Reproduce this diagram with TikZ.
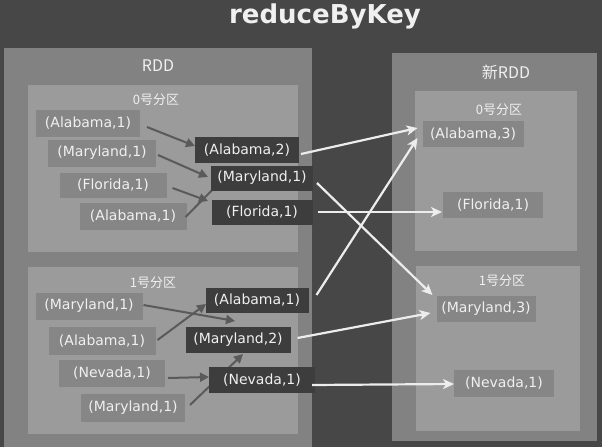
\documentclass[tikz,border=0pt]{standalone}
\usepackage{fontspec}
\setmainfont{DejaVu Sans}
\newfontfamily\cjk{Noto Sans CJK SC}
\usetikzlibrary{arrows.meta}
\definecolor{bgc}{HTML}{474747}
\definecolor{outerc}{HTML}{828282}
\definecolor{partc}{HTML}{9b9b9b}
\definecolor{srcc}{HTML}{868686}
\definecolor{darkc}{HTML}{3d3d3d}
\definecolor{txtc}{HTML}{F0F0F0}
\definecolor{inarrc}{HTML}{5a5a5a}
\definecolor{outarrc}{HTML}{EDEDED}
\begin{document}
\begin{tikzpicture}[x=1pt,y=-1pt,
  region/.style={rectangle,inner sep=0pt,outer sep=0pt,draw=none},
  outerbox/.style={region,fill=outerc},
  partbox/.style={region,fill=partc},
  tuple/.style={rectangle,inner sep=0pt,outer sep=0pt,text=txtc,font=\fontsize{14}{16}\selectfont,minimum height=26pt},
  srcbox/.style={tuple,fill=srcc},
  resbox/.style={tuple,fill=darkc},
  lbl/.style={text=txtc,font=\cjk\fontsize{13}{15}\selectfont,inner sep=0pt},
  rddlbl/.style={text=txtc,font=\cjk\fontsize{16}{18}\selectfont,inner sep=0pt},
  inarr/.style={draw=inarrc,line width=2pt,-{Triangle[length=9pt,width=9pt]}},
  outarr/.style={draw=outarrc,line width=2.2pt,-{Stealth[length=11pt,width=10pt,inset=3pt]}}
]
\useasboundingbox (0,0) rectangle (602,447);
\fill[bgc] (0,0) rectangle (602,447);

\node[text=txtc,font=\bfseries\fontsize{26}{28}\selectfont,inner sep=0pt] (title) at (325,16) {reduceByKey};

% containers
\node[outerbox,minimum width=308pt,minimum height=399pt] (L) at (158,247.5) {};
\node[outerbox,minimum width=205pt,minimum height=388pt] (R) at (494.5,247) {};
\node[partbox,minimum width=270pt,minimum height=167pt] (LP0) at (163,168.5) {};
\node[partbox,minimum width=270pt,minimum height=167pt] (LP1) at (163,350.5) {};
\node[partbox,minimum width=162pt,minimum height=160pt] (RP0) at (496,171) {};
\node[partbox,minimum width=164pt,minimum height=165pt] (RP1) at (498,348.5) {};

\node[rddlbl] (Lt) at (158,66) {RDD};
\node[rddlbl] (Rt) at (506,72) {新RDD};
\node[lbl] (LP0t) at (156,100) {0号分区};
\node[lbl] (LP1t) at (153,283) {1号分区};
\node[lbl] (RP0t) at (499,110) {0号分区};
\node[lbl] (RP1t) at (502,281) {1号分区};

% source tuples
\node[srcbox,minimum width=104pt,minimum height=27pt] (a1) at (88,123) {(Alabama,1)};
\node[srcbox,minimum width=108pt,minimum height=27pt] (m1) at (102,153) {(Maryland,1)};
\node[srcbox,minimum width=107pt,minimum height=25pt] (f1) at (113,185) {(Florida,1)};
\node[srcbox,minimum width=107pt,minimum height=27pt] (a1b) at (133,216) {(Alabama,1)};
\node[srcbox,minimum width=107pt,minimum height=27pt] (m2) at (89,306) {(Maryland,1)};
\node[srcbox,minimum width=107pt,minimum height=28pt] (a2) at (102,341) {(Alabama,1)};
\node[srcbox,minimum width=106pt,minimum height=27pt] (n1) at (112,373) {(Nevada,1)};
\node[srcbox,minimum width=104pt,minimum height=28pt] (m2b) at (133,408) {(Maryland,1)};

% coordinates for hidden arrow ends
\coordinate (hidA) at (236,166);

% arrows inside partitions (drawn before the result boxes)
\draw[inarr] ([shift={(7,4)}]a1.east) -- (195,146) coordinate (tA2);
\draw[inarr] ([shift={(2,2)}]m1.east) -- (208,177) coordinate (tM1);
\draw[inarr] ([shift={(6,3)}]f1.east) -- (208,201) coordinate (tF1);
\draw[inarr] ([shift={(-1,1)}]a1b.east) -- (hidA);
\draw[inarr] ([shift={(1,-1)}]m2.east) -- (235,321) coordinate (tM2);
\draw[inarr] ([shift={(2,-1)}]a2.east) -- (206,304) coordinate (tA1);
\draw[inarr] ([shift={(3,5)}]n1.east) -- (209,377) coordinate (tN1);
\draw[inarr] ([shift={(5,-3)}]m2b.east) -- (243,354) coordinate (tM2b);

% result boxes in RDD
\node[resbox,minimum width=104pt,minimum height=26pt] (A2) at (247,150) {(Alabama,2)};
\node[resbox,minimum width=102pt,minimum height=25pt] (M1) at (262,178) {(Maryland,1)};
\node[resbox,minimum width=101pt,minimum height=25pt] (F1) at (262,212) {(Florida,1)};
\node[resbox,minimum width=103pt,minimum height=25pt] (A1) at (257,300) {(Alabama,1)};
\node[resbox,minimum width=105pt,minimum height=26pt] (M2) at (238,340) {(Maryland,2)};
\node[resbox,minimum width=106pt,minimum height=26pt] (N1) at (262,380) {(Nevada,1)};

% new RDD tuples
\node[srcbox,minimum width=101pt,minimum height=26pt] (RA3) at (473,134) {(Alabama,3)};
\node[srcbox,minimum width=100pt,minimum height=26pt] (RF1) at (493,205) {(Florida,1)};
\node[srcbox,minimum width=99pt,minimum height=26pt] (RM3) at (486,309) {(Maryland,3)};
\node[srcbox,minimum width=100pt,minimum height=27pt] (RN1) at (504,383) {(Nevada,1)};

% shuffle arrows
\draw[outarr] ([shift={(2,4)}]A2.east) -- ([shift={(-5,-6)}]RA3.west);
\draw[outarr] ([shift={(4,5)}]M1.east) -- ([shift={(-4,-1)}]RM3.north west);
\draw[outarr] ([shift={(5,0)}]F1.east) -- ([shift={(-1,7)}]RF1.west);
\draw[outarr] ([shift={(8,-5)}]A1.east) -- ([shift={(-5,4)}]RA3.west);
\draw[outarr] ([shift={(7,-2)}]M2.east) -- ([shift={(-6,4)}]RM3.west);
\draw[outarr] ([shift={(-3,5)}]N1.east) -- ([shift={(0,1)}]RN1.west);
\end{tikzpicture}
\end{document}
